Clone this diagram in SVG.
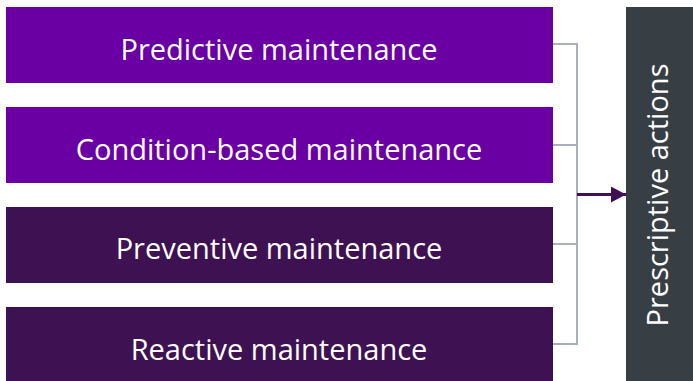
<svg xmlns="http://www.w3.org/2000/svg" width="693" height="381" viewBox="0 0 693 381">
<style>
.box text{font-family:"Open Sans",sans-serif;font-size:29px;fill:#ffffff;text-anchor:middle}
.light{fill:#6a00a3}
.dark{fill:#3d1152}
.conn{stroke:#a9b0bf;stroke-width:2;fill:none}
</style>
<defs>
<marker id="ah2" viewBox="0 0 15 16" refX="15" refY="8" markerWidth="15" markerHeight="16" markerUnits="userSpaceOnUse" orient="auto"><path d="M0,0 L15,8 L0,16 Z" fill="#3d1152"/></marker>
</defs>
<g id="node-predictive" class="box"><rect class="light" x="6" y="7" width="547" height="76"/><text x="279" y="60">Predictive maintenance</text></g>
<g id="node-condition" class="box"><rect class="light" x="6" y="107" width="547" height="76"/><text x="279" y="160">Condition-based maintenance</text></g>
<g id="node-preventive" class="box"><rect class="dark" x="6" y="207" width="547" height="76"/><text x="279" y="259">Preventive maintenance</text></g>
<g id="node-reactive" class="box"><rect class="dark" x="6" y="307" width="547" height="76"/><text x="279" y="360">Reactive maintenance</text></g>
<g id="node-prescriptive" class="box"><rect fill="#373e44" x="626" y="7" width="70" height="376"/><text x="0" y="0" transform="translate(668,195) rotate(-90)">Prescriptive actions</text></g>
<g id="connectors">
<path class="conn" d="M553,44 H577 V344 H553 M553,145 H577 M553,244 H577"/>
<line x1="577" y1="194.5" x2="626" y2="194.5" stroke="#3d1152" stroke-width="3" marker-end="url(#ah2)"/>
</g>
</svg>
